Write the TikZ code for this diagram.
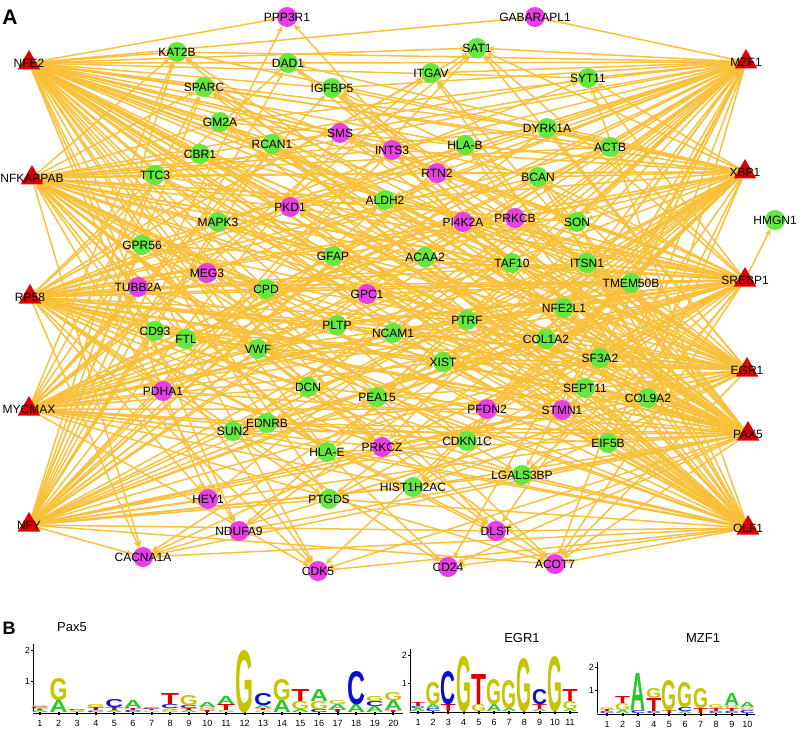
\documentclass[tikz,border=0pt]{standalone}
\usepackage{fontspec}
\setmainfont{Liberation Sans}
\usepackage{graphicx}
\usetikzlibrary{shapes.geometric,arrows.meta,backgrounds}
\definecolor{edgeyellow}{RGB}{250,192,58}
\definecolor{tfred}{RGB}{222,0,0}
\definecolor{genegreen}{RGB}{100,232,62}
\definecolor{genepink}{RGB}{232,62,232}
\definecolor{logoA}{RGB}{40,200,40}
\definecolor{logoC}{RGB}{10,10,210}
\definecolor{logoG}{RGB}{196,196,0}
\definecolor{logoT}{RGB}{220,0,0}

% one column of a sequence logo: x, baseline, letter width, stack (bottom to top)
\newcommand{\logocol}[4]{%
  \gdef\stacky{#2}%
  \foreach \ltr/\hgt in #4{%
    \node[logoletter] at ({#1},\stacky) {\resizebox{#3pt}{\hgt pt}{\color{logo\ltr}\ltr}};%
    \pgfmathsetmacro\nexty{\stacky-\hgt}%
    \global\let\stacky\nexty
  }%
}
% axes of a logo: axis x, baseline, px per bit, first column x, column step, columns
\newcommand{\logoaxis}[6]{%
  \draw[logoline] ({#1},{#2-2.2*#3}) -- ({#1},{#2});
  \draw[logoline] ({#1-2},{#2-#3}) -- ({#1},{#2-#3});
  \draw[logoline] ({#1-2},{#2-2*#3}) -- ({#1},{#2-2*#3});
  \node[logotick] at ({#1-2},{#2-#3}) {1};
  \node[logotick] at ({#1-2},{#2-2*#3}) {2};
  \draw[logoline] ({#1},{#2+1}) -- ({#4+(#6-0.5)*#5},{#2+1});
  \foreach \k in {1,...,#6}{%
    \fill ({#4+(\k-1)*#5-1},{#2}) rectangle ++(2,2.5);
    \node[lognum] at ({#4+(\k-1)*#5},{#2+11}) {\k};
  }%
}

\begin{document}
\begin{tikzpicture}[
    x=1pt, y=-1pt,
    font=\fontsize{12}{12}\selectfont,
    flat/.style={execute at begin node={\hbox to 0pt\bgroup\hss}, execute at end node={\hss\egroup}},
    tf/.style={regular polygon, regular polygon sides=3, fill=tfred, minimum size=26pt, inner sep=0pt, flat},
    gene/.style={circle, fill=genegreen, minimum size=20pt, inner sep=0pt, flat},
    pgene/.style={gene, fill=genepink},
    edge/.style={draw=edgeyellow, line width=1.5pt, -{Stealth[length=7pt,width=6pt]}},
    logoletter/.style={anchor=base, inner sep=0pt, outer sep=0pt, font=\bfseries},
    logoline/.style={line width=0.6pt},
    logotick/.style={anchor=east, inner sep=1pt, font=\fontsize{9}{9}\selectfont},
    lognum/.style={inner sep=0pt, font=\fontsize{9}{9}\selectfont}
]
\useasboundingbox (0,0) rectangle (800,730);

% --- panel A: regulatory network ---
\node[font=\fontsize{21}{21}\selectfont\bfseries] (panelA) at (10,17) {A};

% transcription factors
\node[tf] (NFE2) at (29,63) {NFE2};
\node[tf] (NFKAPPAB) at (32,178) {NFKAPPAB};
\node[tf] (RP58) at (30,297) {RP58};
\node[tf] (MYCMAX) at (29,409) {MYCMAX};
\node[tf] (NFY) at (29,525) {NFY};
\node[tf] (MZF1) at (746,62) {MZF1};
\node[tf] (XBP1) at (745,172) {XBP1};
\node[tf] (SREBP1) at (745,280) {SREBP1};
\node[tf] (EGR1) at (747,370) {EGR1};
\node[tf] (PAX5) at (748,434) {PAX5};
\node[tf] (OLF1) at (748,528) {OLF1};

% target genes
\node[pgene] (PPP3R1) at (287,17) {PPP3R1};
\node[pgene] (GABARAPL1) at (535,17) {GABARAPL1};
\node[gene] (KAT2B) at (177,52) {KAT2B};
\node[gene] (DAD1) at (288,63) {DAD1};
\node[gene] (SAT1) at (477,48) {SAT1};
\node[gene] (SPARC) at (204,87) {SPARC};
\node[gene] (IGFBP5) at (332,88) {IGFBP5};
\node[gene] (ITGAV) at (431,73) {ITGAV};
\node[gene] (SYT11) at (588,78) {SYT11};
\node[gene] (GM2A) at (220,122) {GM2A};
\node[pgene] (SMS) at (340,133) {SMS};
\node[gene] (RCAN1) at (272,144) {RCAN1};
\node[gene] (CBR1) at (200,154) {CBR1};
\node[pgene] (INTS3) at (392,150) {INTS3};
\node[gene] (DYRK1A) at (547,128) {DYRK1A};
\node[gene] (HLAB) at (465,145) {HLA-B};
\node[gene] (ACTB) at (610,147) {ACTB};
\node[gene] (TTC3) at (155,175) {TTC3};
\node[pgene] (RTN2) at (437,173) {RTN2};
\node[gene] (BCAN) at (538,177) {BCAN};
\node[gene] (ALDH2) at (385,200) {ALDH2};
\node[pgene] (PKD1) at (290,207) {PKD1};
\node[gene] (MAPK3) at (218,222) {MAPK3};
\node[pgene] (PI4K2A) at (463,222) {PI4K2A};
\node[pgene] (PRKCB) at (515,218) {PRKCB};
\node[gene] (SON) at (577,222) {SON};
\node[gene] (HMGN1) at (775,220) {HMGN1};
\node[gene] (GPR56) at (142,245) {GPR56};
\node[gene] (GFAP) at (333,256) {GFAP};
\node[gene] (ACAA2) at (425,257) {ACAA2};
\node[gene] (TAF10) at (512,263) {TAF10};
\node[gene] (ITSN1) at (587,263) {ITSN1};
\node[pgene] (MEG3) at (207,273) {MEG3};
\node[pgene] (TUBB2A) at (138,287) {TUBB2A};
\node[gene] (CPD) at (266,289) {CPD};
\node[pgene] (GPC1) at (367,294) {GPC1};
\node[gene] (TMEM50B) at (631,283) {TMEM50B};
\node[gene] (NFE2L1) at (564,308) {NFE2L1};
\node[gene] (PLTP) at (337,325) {PLTP};
\node[gene] (PTRF) at (467,320) {PTRF};
\node[gene] (CD93) at (155,331) {CD93};
\node[gene] (FTL) at (186,339) {FTL};
\node[gene] (NCAM1) at (393,333) {NCAM1};
\node[gene] (COL1A2) at (546,339) {COL1A2};
\node[gene] (VWF) at (258,349) {VWF};
\node[gene] (XIST) at (443,362) {XIST};
\node[gene] (SF3A2) at (600,358) {SF3A2};
\node[pgene] (PDHA1) at (163,391) {PDHA1};
\node[gene] (DCN) at (308,387) {DCN};
\node[gene] (SEPT11) at (585,388) {SEPT11};
\node[gene] (PEA15) at (377,397) {PEA15};
\node[gene] (COL9A2) at (648,398) {COL9A2};
\node[gene] (EDNRB) at (267,423) {EDNRB};
\node[gene] (SUN2) at (233,431) {SUN2};
\node[pgene] (PFDN2) at (487,409) {PFDN2};
\node[pgene] (STMN1) at (562,410) {STMN1};
\node[gene] (HLAE) at (327,452) {HLA-E};
\node[pgene] (PRKCZ) at (382,447) {PRKCZ};
\node[gene] (CDKN1C) at (467,441) {CDKN1C};
\node[gene] (EIF5B) at (608,443) {EIF5B};
\node[gene] (LGALS3BP) at (522,475) {LGALS3BP};
\node[gene] (HIST1H2AC) at (413,487) {HIST1H2AC};
\node[gene] (PTGDS) at (329,499) {PTGDS};
\node[pgene] (HEY1) at (208,499) {HEY1};
\node[pgene] (NDUFA9) at (239,531) {NDUFA9};
\node[pgene] (DLST) at (496,531) {DLST};
\node[pgene] (CACNA1A) at (143,557) {CACNA1A};
\node[pgene] (CDK5) at (318,571) {CDK5};
\node[pgene] (CD24) at (448,567) {CD24};
\node[pgene] (ACOT7) at (555,564) {ACOT7};

% regulations
\begin{scope}[on background layer]
\pgfmathsetseed{4242}
\foreach \t in {NFE2,NFKAPPAB,RP58,MYCMAX,NFY,MZF1,XBP1,SREBP1,EGR1,PAX5,OLF1}{
  \foreach \g in {KAT2B,DAD1,SAT1,SPARC,IGFBP5,ITGAV,SYT11,GM2A,SMS,RCAN1,CBR1,INTS3,
      DYRK1A,HLAB,ACTB,TTC3,RTN2,BCAN,ALDH2,PKD1,MAPK3,PI4K2A,PRKCB,SON,GPR56,GFAP,
      ACAA2,TAF10,ITSN1,MEG3,TUBB2A,CPD,GPC1,TMEM50B,NFE2L1,PLTP,PTRF,CD93,FTL,NCAM1,
      COL1A2,VWF,XIST,SF3A2,PDHA1,DCN,SEPT11,PEA15,COL9A2,EDNRB,SUN2,PFDN2,STMN1,HLAE,
      PRKCZ,CDKN1C,EIF5B,LGALS3BP,HIST1H2AC,PTGDS,HEY1,NDUFA9,DLST,CACNA1A,CDK5,CD24,ACOT7}{
    \pgfmathtruncatemacro\keep{100*rnd}
    \ifnum\keep<63 \draw[edge] (\t) -- (\g);\fi
  }
}
\draw[edge] (NFE2) -- (PPP3R1);
\draw[edge] (NFY) -- (PPP3R1);
\draw[edge] (OLF1) -- (PPP3R1);
\draw[edge] (NFE2) -- (GABARAPL1);
\draw[edge] (MZF1) -- (GABARAPL1);
\draw[edge] (SREBP1) -- (HMGN1);
\end{scope}

% --- panel B: binding motifs ---
\node[font=\fontsize{18}{18}\selectfont\bfseries] (panelB) at (9,628) {B};
\node[font=\fontsize{13}{13}\selectfont] (tPax5) at (72,627) {Pax5};
\node[font=\fontsize{13}{13}\selectfont] (tEGR1) at (522,638) {EGR1};
\node[font=\fontsize{13}{13}\selectfont] (tMZF1) at (703,638) {MZF1};

% Pax5
\logoaxis{33}{712}{31}{40}{18.6}{20}
\foreach \stack [count=\k] in {{A/2,T/1.5,C/1.5,G/2},{A/12,G/22},{A/1,G/1,C/1},{C/1.5,T/3,G/3},
    {A/2,T/3,C/8},{C/2,T/2,A/8},{G/1.5,T/1.5,C/1.5},{G/2,A/1.5,C/4,T/11},{A/2,T/2,C/3,G/10},
    {T/2,G/3,A/5},{G/2,T/6,A/8},{G/62},{G/1.5,T/2,A/3,C/12},{A/12,G/21},{A/3,G/8,T/12},
    {C/3,G/8,A/12},{T/3,A/5,G/4},{A/8,C/33},{A/6,C/5,G/5},{T/2,A/10,G/8}}{
  \logocol{40+18.6*(\k-1)}{712}{18}{\stack}
}
% EGR1
\logoaxis{410}{711}{28}{418}{15.2}{11}
\foreach \stack [count=\k] in {{A/3,C/2,T/4},{C/3,A/4,G/22},{T/7,C/33},{G/55},{G/7,T/30},
    {A/7,G/25},{A/3,G/28},{G/53},{A/2,T/5,C/15},{G/55},{A/2,G/8,T/12}}{
  \logocol{418+15.2*(\k-1)}{711}{15}{\stack}
}
% MZF1
\logoaxis{597}{713}{23}{607}{15.6}{10}
\foreach \stack [count=\k] in {{C/2,T/2,G/2},{A/3,G/7,T/7},{C/3,A/37},{C/2,T/13,G/10},{T/3,G/30},
    {A/2,C/4,G/25},{T/5,G/20},{C/2,T/3,G/4},{C/2,T/3,G/3,A/12},{C/3,G/3,A/5}}{
  \logocol{607+15.6*(\k-1)}{713}{15}{\stack}
}
\end{tikzpicture}
\end{document}
